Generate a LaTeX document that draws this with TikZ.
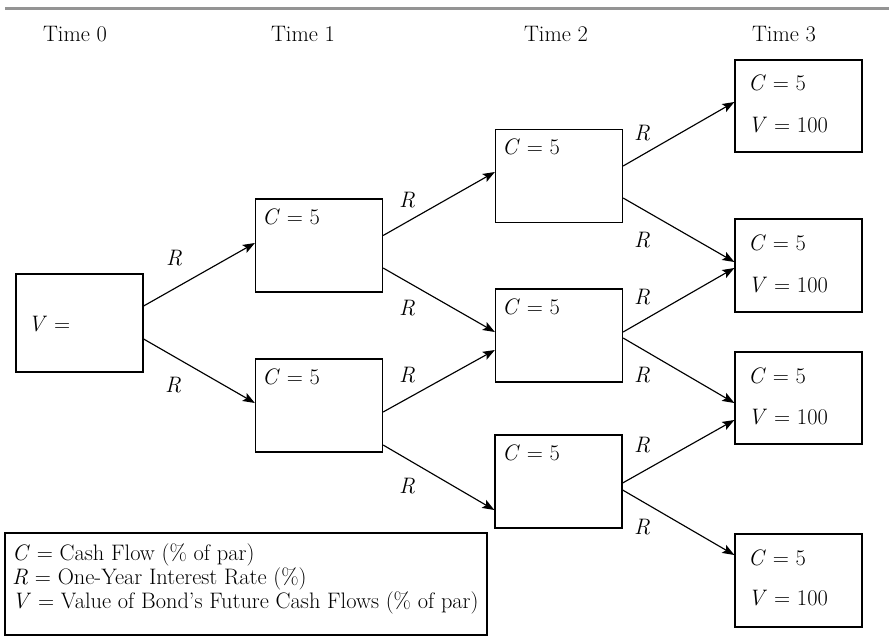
\documentclass[tikz,border=0pt]{standalone}
\usepackage{fontspec}
\usetikzlibrary{arrows.meta}
\newcommand{\vi}[1]{\textit{#1}}
\begin{document}
\begin{tikzpicture}[x=1pt,y=-1pt,
  every node/.style={font=\fontsize{22.4}{26}\selectfont},
  box/.style={draw, line width=1.25pt, rectangle, inner sep=0pt, minimum width=127pt, minimum height=93pt},
  lbl/.style={anchor=base west, inner sep=0pt},
  rl/.style={inner sep=0pt},
  timelbl/.style={anchor=base, inner sep=0pt},
  arr/.style={line width=1.15pt, -{Stealth[length=12pt,width=9pt,inset=2.5pt]}},
  topline/.style={line width=3pt, draw=black!42}]
\useasboundingbox (0,0) rectangle (889,638);
\coordinate (tl) at (5,8);
\coordinate (tr) at (889,8);
\draw[topline] (tl) -- (tr);
% time labels
\node[timelbl] (time0) at (75,41) {Time 0};
\node[timelbl] (time1) at (303,41) {Time 1};
\node[timelbl] (time2) at (556,41) {Time 2};
\node[timelbl] (time3) at (784,41) {Time 3};
% boxes
\node[box, minimum height=98pt] (root) at (79.5,323) {};
\node[box] (t1u) at (319,245.5) {};
\node[box] (t1l) at (319,405.5) {};
\node[box] (t2t) at (559,176) {};
\node[box] (t2m) at (559,335.5) {};
\node[box] (t2b) at (558.5,481.5) {};
\node[box, minimum height=92pt] (t3a) at (798.5,106) {};
\node[box] (t3b) at (798.5,265.5) {};
\node[box, minimum height=92pt] (t3c) at (798.5,398) {};
\node[box] (t3d) at (798.5,580.5) {};
\node[draw, line width=1.25pt, rectangle, inner sep=0pt, minimum width=482pt, minimum height=102pt] (legend) at (246,584) {};
% box texts
\node[lbl] (rootv) at (28,331) {\vi{V} =};
\node[lbl] (t1uc) at (262,224) {\vi{C} = 5};
\node[lbl] (t1lc) at (262,384) {\vi{C} = 5};
\node[lbl] (t2tc) at (502,154) {\vi{C} = 5};
\node[lbl] (t2mc) at (502,314) {\vi{C} = 5};
\node[lbl] (t2bc) at (502,460) {\vi{C} = 5};
\node[lbl] (t3ac) at (748,90) {\vi{C} = 5};
\node[lbl] (t3av) at (748,132) {\vi{V} = 100};
\node[lbl] (t3bc) at (748,250) {\vi{C} = 5};
\node[lbl] (t3bv) at (748,292) {\vi{V} = 100};
\node[lbl] (t3cc) at (748,383) {\vi{C} = 5};
\node[lbl] (t3cv) at (748,424) {\vi{V} = 100};
\node[lbl] (t3dc) at (748,565) {\vi{C} = 5};
\node[lbl] (t3dv) at (748,605) {\vi{V} = 100};
% legend text
\node[lbl] (leg1) at (12,560) {\vi{C} = Cash Flow (\% of par)};
\node[lbl] (leg2) at (12,584) {\vi{R} = One-Year Interest Rate (\%)};
\node[lbl] (leg3) at (12,608) {\vi{V} = Value of Bond’s Future Cash Flows (\% of par)};
% arrows
\draw[arr] ([yshift=17pt]root.east) -- ([yshift=2.5pt]t1u.west);
\draw[arr] ([yshift=-16pt]root.east) -- ([yshift=2.5pt]t1l.west);
\draw[arr] ([yshift=10pt]t1u.east) -- ([yshift=4pt]t2t.west);
\draw[arr] ([yshift=-22.5pt]t1u.east) -- ([yshift=3.5pt]t2m.west);
\draw[arr] ([yshift=-6.5pt]t1l.east) -- ([yshift=-14.5pt]t2m.west);
\draw[arr] ([yshift=-39.5pt]t1l.east) -- ([yshift=-28.5pt]t2b.west);
\draw[arr] ([yshift=10pt]t2t.east) -- ([yshift=4pt]t3a.west);
\draw[arr] ([yshift=-22pt]t2t.east) -- ([yshift=3.5pt]t3b.west);
\draw[arr] ([yshift=3.5pt]t2m.east) -- ([yshift=-2.5pt]t3b.west);
\draw[arr] ([yshift=-2.5pt]t2m.east) -- ([yshift=-5pt]t3c.west);
\draw[arr] ([yshift=-1.5pt]t2b.east) -- ([yshift=-22pt]t3c.west);
\draw[arr] ([yshift=-8.5pt]t2b.east) -- ([yshift=25.5pt]t3d.west);
% R labels
\node[rl] (r1) at (174,258) {\vi{R}};
\node[rl] (r2) at (173,385) {\vi{R}};
\node[rl] (r3) at (407,200) {\vi{R}};
\node[rl] (r4) at (407,308) {\vi{R}};
\node[rl] (r5) at (407,375) {\vi{R}};
\node[rl] (r6) at (407,486) {\vi{R}};
\node[rl] (r7) at (642,133) {\vi{R}};
\node[rl] (r8) at (642,240) {\vi{R}};
\node[rl] (r9) at (642,297) {\vi{R}};
\node[rl] (r10) at (642,375) {\vi{R}};
\node[rl] (r11) at (642,445) {\vi{R}};
\node[rl] (r12) at (642,527) {\vi{R}};
\end{tikzpicture}
\end{document}
